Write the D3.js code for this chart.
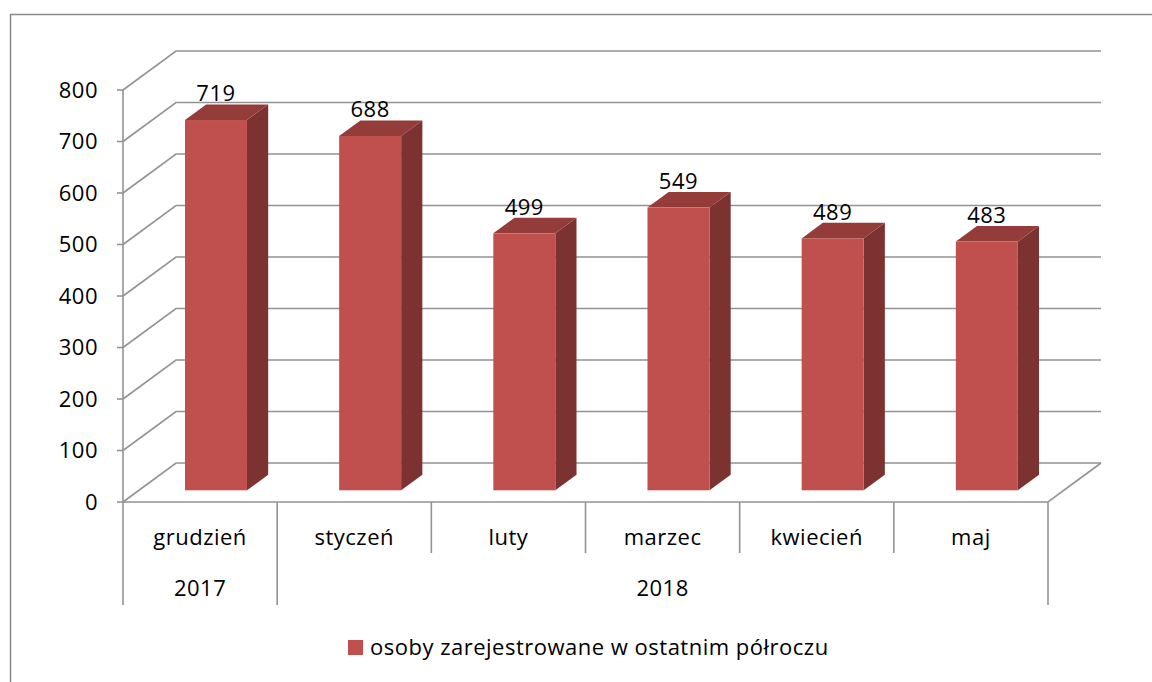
<!DOCTYPE html>
<html>
<head>
<meta charset="utf-8">
<script src="https://cdn.jsdelivr.net/npm/d3@7"></script>
<style>
  body { margin: 0; background: #fff; }
  text { font-family: "Open Sans", "DejaVu Sans", sans-serif; fill: #000; letter-spacing: 0.5px; }
</style>
</head>
<body>
<div id="chart"></div>
<script>
var width = 1152,
  height = 682;

// data
var months = ["grudzień", "styczeń", "luty", "marzec", "kwiecień", "maj"];
var years = [{ label: "2017", from: 0, to: 1 }, { label: "2018", from: 1, to: 6 }];
var values = [719, 688, 499, 549, 489, 483];
var yTicks = [0, 100, 200, 300, 400, 500, 600, 700, 800];
var seriesName = "osoby zarejestrowane w ostatnim półroczu";

// 3d look: full depth of the floor
var depthX = 53,
  depthY = -39;

var x = d3.scaleBand()
  .domain(d3.range(months.length))
  .range([123, 1048]);

var y = d3.scaleLinear()
  .domain([0, 800])
  .range([502, 90]);

var svg = d3.select("#chart")
  .append("svg")
  .attr("width", width)
  .attr("height", height);

// outer frame
svg.append("rect")
  .attr("x", 10.5)
  .attr("y", 14.5)
  .attr("width", 1200)
  .attr("height", 800)
  .attr("fill", "none")
  .attr("stroke", "#8a8a8a")
  .attr("stroke-width", 1.5);

var grid = svg.append("g")
  .attr("stroke", "#939393")
  .attr("stroke-width", 1.6)
  .attr("fill", "none");

var x0 = x.range()[0],
  x1 = x.range()[1];

// back wall gridlines + side wall diagonals
yTicks.forEach(function (t) {
  var yf = y(t);
  grid.append("path")
    .attr("d", "M" + x0 + "," + yf + "L" + (x0 + depthX) + "," + (yf + depthY) + "L" + (x1 + depthX) + "," + (yf + depthY));
});

// floor front edge + right edge
grid.append("path")
  .attr("d", "M" + x0 + "," + y(0) + "L" + x1 + "," + y(0) + "L" + (x1 + depthX) + "," + (y(0) + depthY));

// value axis
grid.append("line")
  .attr("x1", x0).attr("x2", x0)
  .attr("y1", y(800)).attr("y2", y(0));

yTicks.forEach(function (t) {
  grid.append("line")
    .attr("x1", x0 - 6).attr("x2", x0)
    .attr("y1", y(t)).attr("y2", y(t));
});

svg.append("g")
  .selectAll("text")
  .data(yTicks)
  .enter()
  .append("text")
  .attr("x", 98)
  .attr("y", function (d) { return y(d); })
  .attr("dy", "0.36em")
  .attr("text-anchor", "end")
  .attr("font-size", 22)
  .text(function (d) { return d; });

// category dividers (month level)
d3.range(months.length + 1).forEach(function (i) {
  var xx = i < months.length ? x(i) : x1;
  var isYearEdge = years.some(function (yr) { return yr.from === i || yr.to === i; });
  grid.append("line")
    .attr("x1", xx).attr("x2", xx)
    .attr("y1", y(0)).attr("y2", isYearEdge ? 605 : 553);
});

svg.append("g")
  .selectAll("text")
  .data(months)
  .enter()
  .append("text")
  .attr("x", function (d, i) { return x(i) + x.bandwidth() / 2; })
  .attr("y", 545)
  .attr("text-anchor", "middle")
  .attr("font-size", 22)
  .text(function (d) { return d; });

svg.append("g")
  .selectAll("text")
  .data(years)
  .enter()
  .append("text")
  .attr("x", function (d) {
    var a = x(d.from), b = d.to < months.length ? x(d.to) : x1;
    return (a + b) / 2;
  })
  .attr("y", 596)
  .attr("text-anchor", "middle")
  .attr("font-size", 22)
  .text(function (d) { return d.label; });

// bars
var barW = 62,
  dFront = 0.3,
  dBack = 0.7;

var bars = svg.append("g");

values.forEach(function (v, i) {
  var cx = x(i) + x.bandwidth() / 2;
  var fx = cx - barW / 2 + dFront * depthX,
    fy0 = y(0) + dFront * depthY,
    fy1 = y(v) + dFront * depthY;
  var ddx = (dBack - dFront) * depthX,
    ddy = (dBack - dFront) * depthY;

  // side
  bars.append("path")
    .attr("fill", "#7b3230")
    .attr("d", "M" + (fx + barW) + "," + fy1 + "L" + (fx + barW + ddx) + "," + (fy1 + ddy) +
      "L" + (fx + barW + ddx) + "," + (fy0 + ddy) + "L" + (fx + barW) + "," + fy0 + "Z");
  // top
  bars.append("path")
    .attr("fill", "#943c3a")
    .attr("d", "M" + fx + "," + fy1 + "L" + (fx + ddx) + "," + (fy1 + ddy) +
      "L" + (fx + barW + ddx) + "," + (fy1 + ddy) + "L" + (fx + barW) + "," + fy1 + "Z");
  // front
  bars.append("rect")
    .attr("fill", "#c0504d")
    .attr("x", fx)
    .attr("y", fy1)
    .attr("width", barW)
    .attr("height", fy0 - fy1);

  // value label
  bars.append("text")
    .attr("x", fx + barW / 2)
    .attr("y", fy1 + ddy - 3)
    .attr("text-anchor", "middle")
    .attr("font-size", 22)
    .text(v);
});

// legend
var legend = svg.append("g")
  .attr("transform", "translate(348,640)");

legend.append("rect")
  .attr("width", 15)
  .attr("height", 15)
  .attr("fill", "#c0504d");

legend.append("text")
  .attr("x", 22)
  .attr("y", 15)
  .attr("font-size", 22)
  .text(seriesName);
</script>
</body>
</html>
